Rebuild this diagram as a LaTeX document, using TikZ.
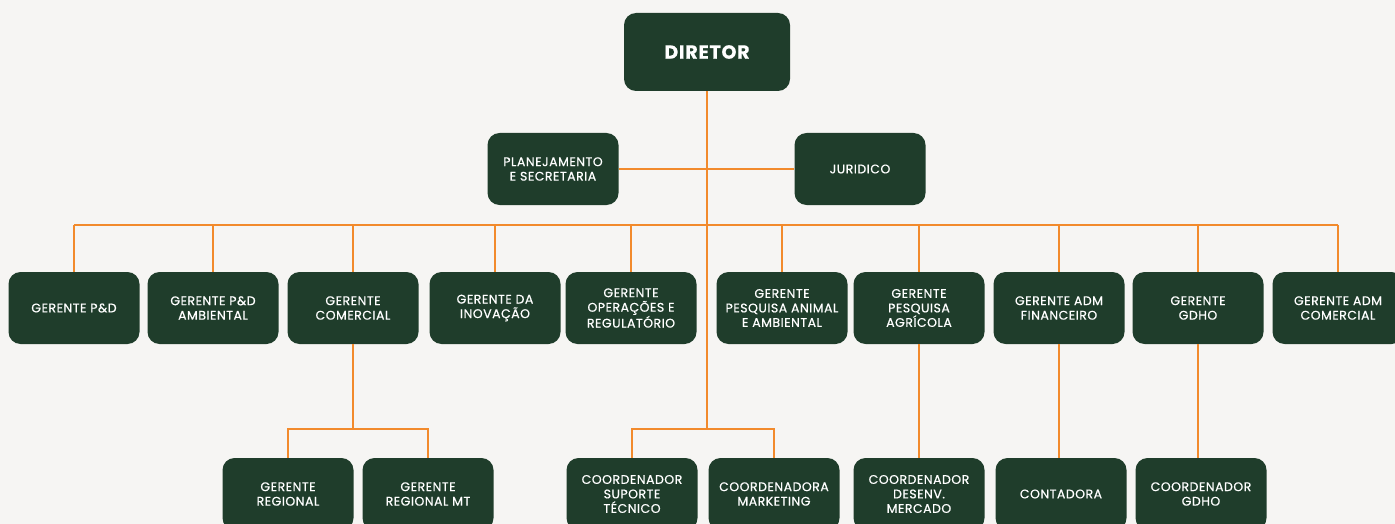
\documentclass[tikz,border=0pt]{standalone}
\usepackage{fontspec}
\setmainfont{Poppins}[FakeBold=0.6,LetterSpace=4]
\definecolor{fundo}{HTML}{F6F5F3}
\definecolor{verde}{HTML}{1F3D2B}
\definecolor{laranja}{HTML}{F28A2C}
\begin{document}
\begin{tikzpicture}[x=1pt,y=-1pt,
  caixa/.style={fill=verde,text=white,rounded corners=12pt,minimum width=131pt,
    minimum height=72pt,align=center,inner sep=2pt,
    font=\fontsize{12.5}{14.5}\selectfont},
  liga/.style={draw=laranja,line width=2pt}]
  \fill[fundo] (0,0) rectangle (1395,524);
  \useasboundingbox (0,0) rectangle (1395,524);
  % topo
  \node[caixa,minimum width=166pt,minimum height=78pt,
    font=\fontsize{19}{22}\selectfont\bfseries] (diretor) at (707,52) {DIRETOR};
  \node[caixa] (planej)   at (553,169) {PLANEJAMENTO\\E SECRETARIA};
  \node[caixa] (juridico) at (860,169) {JURIDICO};
  % gerentes
  \node[caixa] (gpd)      at (74,308)   {GERENTE P\&D};
  \node[caixa] (gpdamb)   at (213,308)  {GERENTE P\&D\\AMBIENTAL};
  \node[caixa] (gcom)     at (353,308)  {GERENTE\\COMERCIAL};
  \node[caixa] (ginov)    at (495,308)  {GERENTE DA\\INOVAÇÃO};
  \node[caixa] (goper)    at (631,308)  {GERENTE\\OPERAÇÕES E\\REGULATÓRIO};
  \node[caixa] (gpesqani) at (782,308)  {GERENTE\\PESQUISA ANIMAL\\E AMBIENTAL};
  \node[caixa] (gpesqagr) at (919,308)  {GERENTE\\PESQUISA\\AGRÍCOLA};
  \node[caixa] (gadmfin)  at (1059,308) {GERENTE ADM\\FINANCEIRO};
  \node[caixa] (ggdho)    at (1198,308) {GERENTE\\GDHO};
  \node[caixa] (gadmcom)  at (1338,308) {GERENTE ADM\\COMERCIAL};
  % coordenadores
  \node[caixa] (greg)   at (288,494)  {GERENTE\\REGIONAL};
  \node[caixa] (gregmt) at (428,494)  {GERENTE\\REGIONAL MT};
  \node[caixa] (csup)   at (632,494)  {COORDENADOR\\SUPORTE\\TÉCNICO};
  \node[caixa] (cmkt)   at (774,494)  {COORDENADORA\\MARKETING};
  \node[caixa] (cdes)   at (919,494)  {COORDENADOR\\DESENV.\\MERCADO};
  \node[caixa] (contad) at (1061,494) {CONTADORA};
  \node[caixa] (cgdho)  at (1201,494) {COORDENADOR\\GDHO};
  % ligacoes
  \coordinate (barra) at (707,225);
  \coordinate (ramo)  at (707,429);
  \draw[liga] (diretor.south) -- (ramo);
  \draw[liga] (planej.east) -- (juridico.west);
  \draw[liga] (gpd.north |- barra) -- (gadmcom.north |- barra);
  \foreach \n in {gpd,gpdamb,gcom,ginov,goper,gpesqani,gpesqagr,gadmfin,ggdho,gadmcom}
    \draw[liga] (\n.north) -- (\n.north |- barra);
  \draw[liga] (gcom.south) -- (gcom.south |- ramo);
  \foreach \a/\b in {greg/gregmt,csup/cmkt}
    \draw[liga] (\a.north) -- (\a.north |- ramo) -- (\b.north |- ramo) -- (\b.north);
  \foreach \a/\b in {gpesqagr/cdes,gadmfin/contad,ggdho/cgdho}
    \draw[liga] (\a.south) -- (\a.south |- \b.north);
\end{tikzpicture}
\end{document}
